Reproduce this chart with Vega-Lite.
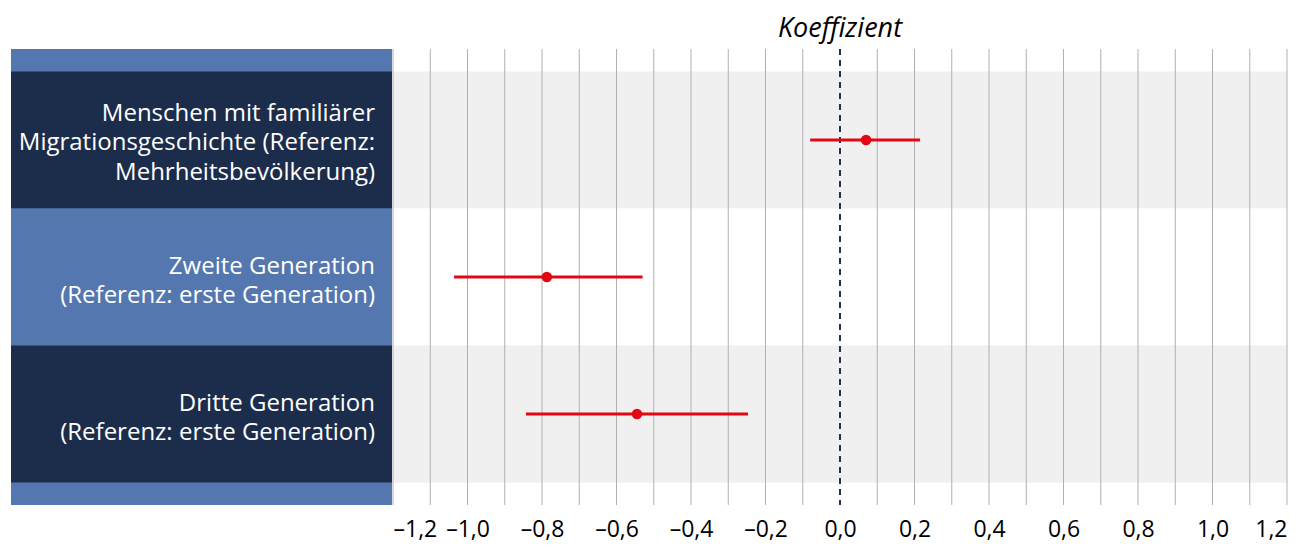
{
  "$schema": "https://vega.github.io/schema/vega-lite/v6.json",
  "autosize": {"type": "pad"},
  "padding": {"left": 11, "top": 15, "right": 0, "bottom": 0},
  "background": "white",
  "config": {"view": {"stroke": null}, "font": "Open Sans"},
  "datasets": {
    "koeff": [
      {"gruppe": "Menschen mit familiärer Migrationsgeschichte (Referenz: Mehrheitsbevölkerung)", "zeilen": ["Menschen mit familiärer", "Migrationsgeschichte (Referenz:", "Mehrheitsbevölkerung)"], "koeffizient": 0.07, "unten": -0.08, "oben": 0.215},
      {"gruppe": "Zweite Generation (Referenz: erste Generation)", "zeilen": ["Zweite Generation", "(Referenz: erste Generation)"], "koeffizient": -0.787, "unten": -1.036, "oben": -0.53},
      {"gruppe": "Dritte Generation (Referenz: erste Generation)", "zeilen": ["Dritte Generation", "(Referenz: erste Generation)"], "koeffizient": -0.545, "unten": -0.843, "oben": -0.247}
    ],
    "gitter": [
      {"g": -1.2}, {"g": -1.1}, {"g": -1.0}, {"g": -0.9}, {"g": -0.8}, {"g": -0.7}, {"g": -0.6}, {"g": -0.5}, {"g": -0.4}, {"g": -0.3}, {"g": -0.2}, {"g": -0.1},
      {"g": 0.1}, {"g": 0.2}, {"g": 0.3}, {"g": 0.4}, {"g": 0.5}, {"g": 0.6}, {"g": 0.7}, {"g": 0.8}, {"g": 0.9}, {"g": 1.0}, {"g": 1.1}, {"g": 1.2}
    ]
  },
  "resolve": {"scale": {"color": "independent"}},
  "spacing": 0,
  "hconcat": [
    {
      "width": 381,
      "height": 456,
      "view": {"fill": "#5577af", "stroke": null},
      "data": {"name": "koeff"},
      "layer": [
        {
          "mark": {"type": "rect"},
          "encoding": {
            "y": {"field": "gruppe", "type": "nominal", "sort": null, "axis": null,
                  "scale": {"paddingInner": 0, "paddingOuter": 0.164}},
            "x": {"value": 0},
            "x2": {"value": "width"},
            "color": {"field": "gruppe", "type": "nominal", "legend": null,
                      "scale": {"domain": ["Menschen mit familiärer Migrationsgeschichte (Referenz: Mehrheitsbevölkerung)", "Zweite Generation (Referenz: erste Generation)", "Dritte Generation (Referenz: erste Generation)"],
                                "range": ["#1c2d4c", "#5577af", "#1c2d4c"]}}
          }
        },
        {
          "transform": [{"filter": "length(datum.zeilen) == 3"}],
          "mark": {"type": "text", "align": "right", "baseline": "middle", "dx": -17, "dy": -26, "fontSize": 24, "lineHeight": 29.5, "color": "white", "font": "Open Sans"},
          "encoding": {
            "y": {"field": "gruppe", "type": "nominal", "sort": null, "axis": null},
            "x": {"value": "width"},
            "text": {"field": "zeilen"}
          }
        },
        {
          "transform": [{"filter": "length(datum.zeilen) == 2"}],
          "mark": {"type": "text", "align": "right", "baseline": "middle", "dx": -17, "dy": -10.5, "fontSize": 24, "lineHeight": 29.5, "color": "white", "font": "Open Sans"},
          "encoding": {
            "y": {"field": "gruppe", "type": "nominal", "sort": null, "axis": null},
            "x": {"value": "width"},
            "text": {"field": "zeilen"}
          }
        }
      ]
    },
    {
      "width": 894,
      "height": 456,
      "view": {"fill": "white", "stroke": null},
      "title": {"text": "Koeffizient", "fontStyle": "italic", "fontWeight": "normal", "fontSize": 27, "font": "Open Sans", "color": "#000000", "anchor": "middle", "baseline": "bottom", "offset": -22},
      "layer": [
        {
          "data": {"name": "koeff"},
          "mark": {"type": "rect"},
          "encoding": {
            "y": {"field": "gruppe", "type": "nominal", "sort": null, "axis": null,
                  "scale": {"paddingInner": 0, "paddingOuter": 0.164}},
            "x": {"datum": -1.2, "type": "quantitative"},
            "x2": {"datum": 1.2},
            "color": {"field": "gruppe", "type": "nominal", "legend": null,
                      "scale": {"domain": ["Menschen mit familiärer Migrationsgeschichte (Referenz: Mehrheitsbevölkerung)", "Zweite Generation (Referenz: erste Generation)", "Dritte Generation (Referenz: erste Generation)"],
                                "range": ["#f0f0f0", "#ffffff", "#f0f0f0"]}}
          }
        },
        {
          "data": {"name": "gitter"},
          "mark": {"type": "rule", "color": "#b0b0b0", "strokeWidth": 1},
          "encoding": {
            "x": {"field": "g", "type": "quantitative"}
          }
        },
        {
          "data": {"values": [{"null": 0}]},
          "mark": {"type": "rule", "color": "#1c3353", "strokeWidth": 2, "strokeDash": [6, 5]},
          "encoding": {
            "x": {"field": "null", "type": "quantitative"}
          }
        },
        {
          "data": {"name": "koeff"},
          "mark": {"type": "rule", "color": "#e30613", "strokeWidth": 3},
          "encoding": {
            "y": {"field": "gruppe", "type": "nominal", "sort": null, "axis": null},
            "x": {"field": "unten", "type": "quantitative"},
            "x2": {"field": "oben"}
          }
        },
        {
          "data": {"name": "koeff"},
          "mark": {"type": "circle", "color": "#e30613", "opacity": 1, "size": 110},
          "encoding": {
            "y": {"field": "gruppe", "type": "nominal", "sort": null, "axis": null},
            "x": {"field": "koeffizient", "type": "quantitative",
                  "scale": {"domain": [-1.2, 1.2], "nice": false, "zero": false},
                  "axis": {"values": [-1.2, -1.0, -0.8, -0.6, -0.4, -0.2, 0, 0.2, 0.4, 0.6, 0.8, 1.0, 1.2],
                           "title": null, "grid": false, "domain": false, "ticks": false,
                           "labelFontSize": 23, "labelFont": "Open Sans", "labelColor": "#000000", "labelPadding": 13,
                           "labelExpr": "(datum.value < -0.0001 ? '–' : '') + replace(format(abs(datum.value), '.1f'), '.', ',')"}}
          }
        }
      ]
    }
  ]
}
